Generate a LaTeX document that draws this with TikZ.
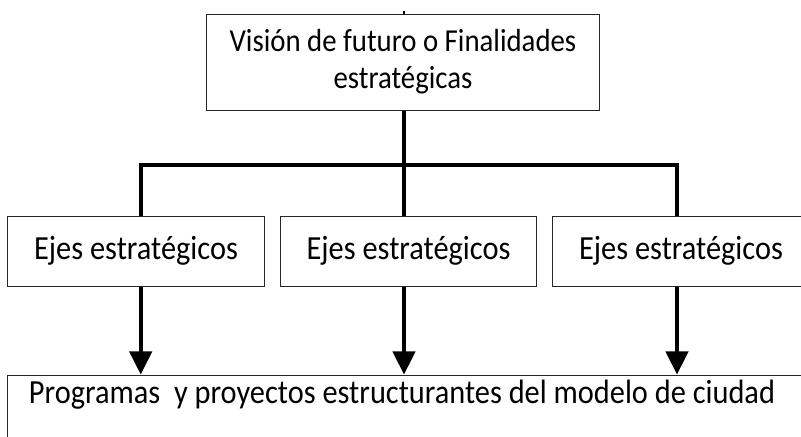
\documentclass[tikz,border=0pt]{standalone}
\usepackage{fontspec}
\setmainfont{Carlito}[FakeStretch=0.9]
\usetikzlibrary{arrows.meta}
\tikzset{
  caja/.style={draw=black!85, line width=0.7pt, align=center, inner sep=0pt,
    font=\fontsize{24}{29}\selectfont},
  eje/.style={caja, minimum width=6.4cm, minimum height=1.75cm},
  rama/.style={line width=2.8pt},
  flecha/.style={line width=2.6pt, -{Triangle[width=0.56cm,length=0.58cm]}}
}
\begin{document}
\begin{tikzpicture}[x=0.025cm, y=-0.025cm]
  \useasboundingbox (0,0) rectangle (801,436);
  \node [caja, minimum width=9.8cm, minimum height=2.4cm,
    font=\fontsize{22.75}{26.2}\selectfont] (vision) at (403,62)
    {Visión de futuro o Finalidades\\estratégicas};
  \node [eje] (eje1) at (136,251) {Ejes estratégicos};
  \node [eje] (eje2) at (408.5,251) {Ejes estratégicos};
  \node [eje] (eje3) at (681,251) {Ejes estratégicos};
  \node [caja, minimum width=20.05cm, text height=0.71cm, text depth=2cm,
    anchor=north] (prog) at (409,374.5)
    {Programas\ \ y proyectos estructurantes del modelo de ciudad\hspace{0.35cm}};
  \coordinate (arriba) at (404,11);   % trazo corto arriba
  \coordinate (hub) at (404,165);
  \coordinate (izq) at (140.7,165);
  \coordinate (der) at (677,165);
  \draw [line width=2pt] (arriba) -- (arriba |- vision.north);
  \draw [rama] (vision.south -| hub) -- (hub);
  \draw [rama] (izq |- eje1.north) -- (izq) -- (der) -- (der |- eje3.north);
  \draw [rama] (hub) -- (hub |- eje2.north);
  \foreach \c/\n in {izq/eje1, hub/eje2, der/eje3}
    \draw [flecha] (\c |- \n.south) -- (\c |- prog.north);   % flechas abajo
\end{tikzpicture}
\end{document}
